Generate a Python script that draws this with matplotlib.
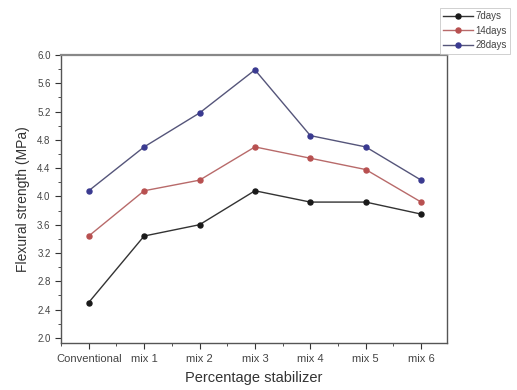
import matplotlib
matplotlib.use("Agg")
import matplotlib.pyplot as plt
from matplotlib.ticker import MultipleLocator

categories = ["Conventional", "mix 1", "mix 2", "mix 3", "mix 4", "mix 5", "mix 6"]
days7 = [2.50, 3.44, 3.60, 4.08, 3.92, 3.92, 3.75]
days14 = [3.44, 4.08, 4.23, 4.70, 4.54, 4.38, 3.92]
days28 = [4.08, 4.70, 5.18, 5.79, 4.86, 4.70, 4.23]
series_names = ["7days", "14days", "28days"]
yticks = [2.0, 2.4, 2.8, 3.2, 3.6, 4.0, 4.4, 4.8, 5.2, 5.6, 6.0]

plt.rcParams['font.family'] = ['Liberation Sans', 'DejaVu Sans']

fig = plt.figure(figsize=(5.17, 3.90), dpi=100)
ax = fig.add_axes([0.118, 0.121, 0.747, 0.738])

x = list(range(len(categories)))
colors = ["#1a1a1a", "#b85050", "#3a3a90"]
line_colors = ["#333333", "#b86a6a", "#55557a"]
lines = []
for vals, name, c, lc in zip([days7, days14, days28], series_names, colors, line_colors):
    ln, = ax.plot(x, vals, color=lc, lw=1.0, marker='o', ms=3.6, mfc=c, mec=c, label=name)
    lines.append(ln)

ax.set_xlim(-0.5, 6.47)
ax.set_ylim(1.93, 6.0)
ax.set_xticks(x)
ax.set_xticklabels(categories)
ax.set_yticks(yticks)
ax.set_yticklabels([f"{v:.1f}" for v in yticks])
ax.xaxis.set_minor_locator(MultipleLocator(0.5))
ax.yaxis.set_minor_locator(MultipleLocator(0.2))
ax.tick_params(axis='both', which='major', direction='out', length=4, width=0.8,
               colors='#333333', labelcolor='#444444')
ax.tick_params(axis='x', which='major', labelsize=8, pad=4)
ax.tick_params(axis='y', which='major', labelsize=7)
ax.tick_params(axis='both', which='minor', direction='out', length=2, width=0.6, colors='#333333')
for s in ax.spines.values():
    s.set_color('#555555')
    s.set_linewidth(1.0)
ax.spines['top'].set_linewidth(1.6)
ax.spines['top'].set_color('#888888')

ax.set_xlabel("Percentage stabilizer", fontsize=10.5, color='#333333', labelpad=5)
ax.set_ylabel("Flexural strength (MPa)", fontsize=10, color='#333333', labelpad=5)

leg = fig.legend(handles=lines, labels=series_names, loc='upper left',
                 bbox_to_anchor=(440/517, 1 - 8/390), fontsize=7, frameon=True,
                 fancybox=False, edgecolor='#bbbbbb', handlelength=3.0,
                 borderpad=0.35, labelspacing=0.45, handletextpad=0.3, borderaxespad=0)
for t in leg.get_texts():
    t.set_color('#444444')
leg.get_frame().set_linewidth(0.6)

fig.savefig("out.png", dpi=100)
